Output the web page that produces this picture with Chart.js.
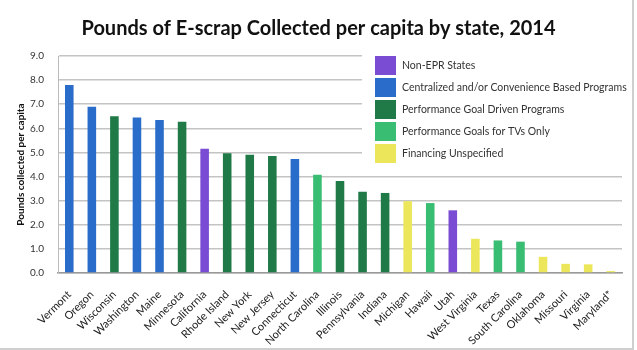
<!DOCTYPE html>
<html>
<head>
<meta charset="utf-8">
<script src="https://cdn.jsdelivr.net/npm/chart.js@4.4.1/dist/chart.umd.min.js"></script>
<style>
  html, body { margin: 0; padding: 0; background: #fff; }
  #wrap { width: 637px; height: 350px; position: relative; }
</style>
</head>
<body>
<div id="wrap"><canvas id="escrapCanvas" width="637" height="350"></canvas></div>
<script>
// states, ordered as in the chart
const states = ["Vermont", "Oregon", "Wisconsin", "Washington", "Maine", "Minnesota", "California",
    "Rhode Island", "New York", "New Jersey", "Connecticut", "North Carolina", "Illinois",
    "Pennsylvania", "Indiana", "Michigan", "Hawaii", "Utah", "West Virginia", "Texas",
    "South Carolina", "Oklahoma", "Missouri", "Virginia", "Maryland*"];
const poundsPerCapita = [7.8, 6.9, 6.5, 6.45, 6.35, 6.27, 5.15, 4.97, 4.9, 4.85, 4.73, 4.08, 3.82,
    3.37, 3.32, 2.98, 2.9, 2.6, 1.42, 1.35, 1.3, 0.67, 0.38, 0.36, 0.08];
// program type of each state (index into programTypes)
const stateProgram = [1, 1, 2, 1, 1, 2, 0, 2, 2, 2, 1, 3, 2, 2, 2, 4, 3, 0, 4, 3, 3, 4, 4, 4, 4];
const programTypes = ["Non-EPR States", "Centralized and/or Convenience Based Programs",
    "Performance Goal Driven Programs", "Performance Goals for TVs Only", "Financing Unspecified"];
const programColors = ["#7a4cd4", "#2a6cca", "#1f7a47", "#38bd72", "#ece75a"];
const yTicks = [0, 1, 2, 3, 4, 5, 6, 7, 8, 9];

// legend drawn inside the plot area (white box over the grid)
const boxLegend = {
    id: 'boxLegend',
    afterDatasetsDraw(chart) {
        const ctx = chart.ctx;
        const x0 = 362, y0 = 50;
        ctx.save();
        ctx.fillStyle = '#fff';
        ctx.fillRect(x0, y0, chart.chartArea.right - x0 + 2, 120);
        ctx.font = '10.5px Lato';
        ctx.textBaseline = 'middle';
        programTypes.forEach(function (name, i) {
            const y = 56 + i * 22;
            ctx.fillStyle = programColors[i];
            ctx.fillRect(375, y, 21, 19);
            ctx.fillStyle = '#333';
            ctx.fillText(name, 402, y + 10);
        });
        ctx.restore();
    },
    afterDraw(chart) {
        const ctx = chart.ctx;
        ctx.save();
        ctx.strokeStyle = '#cfcfcf';
        ctx.lineWidth = 2;
        ctx.beginPath();
        ctx.moveTo(633, 0);
        ctx.lineTo(633, 349);
        ctx.lineTo(0, 349);
        ctx.stroke();
        ctx.restore();
    }
};

let ctx = document.getElementById('escrapCanvas').getContext('2d');
let escrapChart = new Chart(ctx, {
    type: 'bar',
    data: {
        labels: states,
        datasets: [{
            label: "Pounds collected per capita",
            data: poundsPerCapita,
            backgroundColor: stateProgram.map(p => programColors[p]),
            barPercentage: 0.38,
            categoryPercentage: 1.0
        }]
    },
    plugins: [boxLegend],
    options: {
        responsive: false,
        animation: false,
        layout: {
            padding: { left: 15, right: 15, top: 0, bottom: 4 }
        },
        plugins: {
            legend: { display: false },
            tooltip: { enabled: false },
            title: {
                display: true,
                text: 'Pounds of E-scrap Collected per capita by state, 2014',
                color: '#111',
                font: { family: 'Lato', size: 20, weight: 'bold' },
                padding: { top: 17, bottom: 15 }
            }
        },
        scales: {
            x: {
                grid: { display: false },
                border: { color: '#999', width: 1.5 },
                ticks: {
                    color: '#222',
                    font: { family: 'Lato', size: 11 },
                    minRotation: 45,
                    maxRotation: 45,
                    autoSkip: false,
                    padding: 7
                },
                afterFit(scale) { scale.height = 73; }
            },
            y: {
                min: 0,
                max: 9,
                afterBuildTicks(scale) { scale.ticks = yTicks.map(v => ({ value: v })); },
                grid: { color: '#c4c4c4', lineWidth: 1.5, drawTicks: false },
                border: { color: '#bbb', width: 1 },
                ticks: {
                    color: '#333',
                    font: { family: 'Lato', size: 10 },
                    padding: 14,
                    callback: v => v.toFixed(1)
                },
                title: {
                    display: true,
                    text: 'Pounds collected per capita',
                    color: '#111',
                    font: { family: 'Lato', size: 10, weight: 'bold' },
                    padding: { top: 0, bottom: 2 }
                },
                afterFit(scale) { scale.width = 43; }
            }
        }
    }
});
</script>
</body>
</html>
